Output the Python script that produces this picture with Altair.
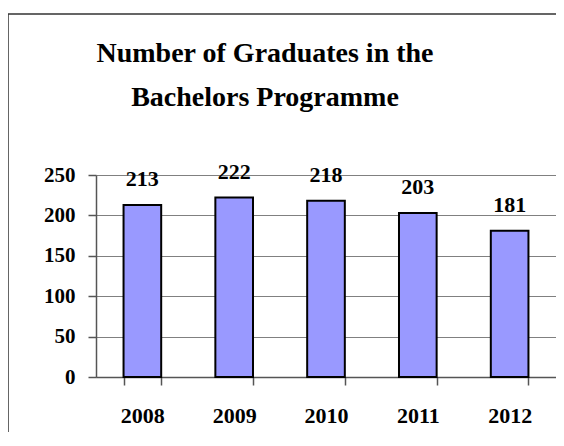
import altair as alt
import pandas as pd

years = ["2008", "2009", "2010", "2011", "2012"]
graduates = [213, 222, 218, 203, 181]
title_lines = ["Number of Graduates in the", "Bachelors Programme"]

df = pd.DataFrame({"year": years, "graduates": graduates})
FONT = "Liberation Serif"

base = alt.Chart(df)

x = alt.X("year:N", sort=years, title=None,
          scale=alt.Scale(paddingInner=0.59, paddingOuter=0.3),
          axis=alt.Axis(labelAngle=0, tickBand="extent", tickSize=8, labelPadding=20,
                        labelFont=FONT, labelFontSize=22, labelFontWeight="bold",
                        labelColor="black", domainColor="#555", tickColor="#555",
                        domainWidth=1.5, tickWidth=1.5, grid=False))
y = alt.Y("graduates:Q", title=None,
          scale=alt.Scale(domain=[0, 250], nice=False),
          axis=alt.Axis(values=[0, 50, 100, 150, 200, 250], tickSize=8, labelPadding=13,
                        labelFont=FONT, labelFontSize=21, labelFontWeight="bold",
                        labelColor="black", domainColor="#555", tickColor="#555",
                        domainWidth=1.5, tickWidth=1.5, grid=True, gridColor="#808080",
                        gridWidth=1.2))

bars = base.mark_bar(color="#9999FF", stroke="black", strokeWidth=2).encode(x=x, y=y)
labels = base.mark_text(font=FONT, fontSize=22, fontWeight="bold", dy=-19,
                        baseline="alphabetic", color="black").encode(
    x=alt.X("year:N", sort=years), y="graduates:Q", text="graduates:Q")

one = alt.Data(values=[{"a": 1}])
frame_box = alt.Chart(one).mark_rect(filled=False, stroke="#333", strokeWidth=1.5).encode(
    x=alt.value(-88), x2=alt.value(480), y=alt.value(-161), y2=alt.value(280))

chart = alt.layer(frame_box, bars, labels).properties(
    width=460, height=202,
    title=alt.TitleParams(title_lines, font=FONT, fontSize=28, fontWeight="bold",
                          color="black", anchor="middle", frame="group", dx=-61,
                          baseline="bottom", offset=-127, lineHeight=44),
    autosize=alt.AutoSizeParams(type="none"),
    padding={"left": 88, "top": 167, "right": 0, "bottom": 55},
).configure_view(stroke=None).configure(background="white")

chart.save("out.html", embed_options={"renderer": "svg", "actions": False})
